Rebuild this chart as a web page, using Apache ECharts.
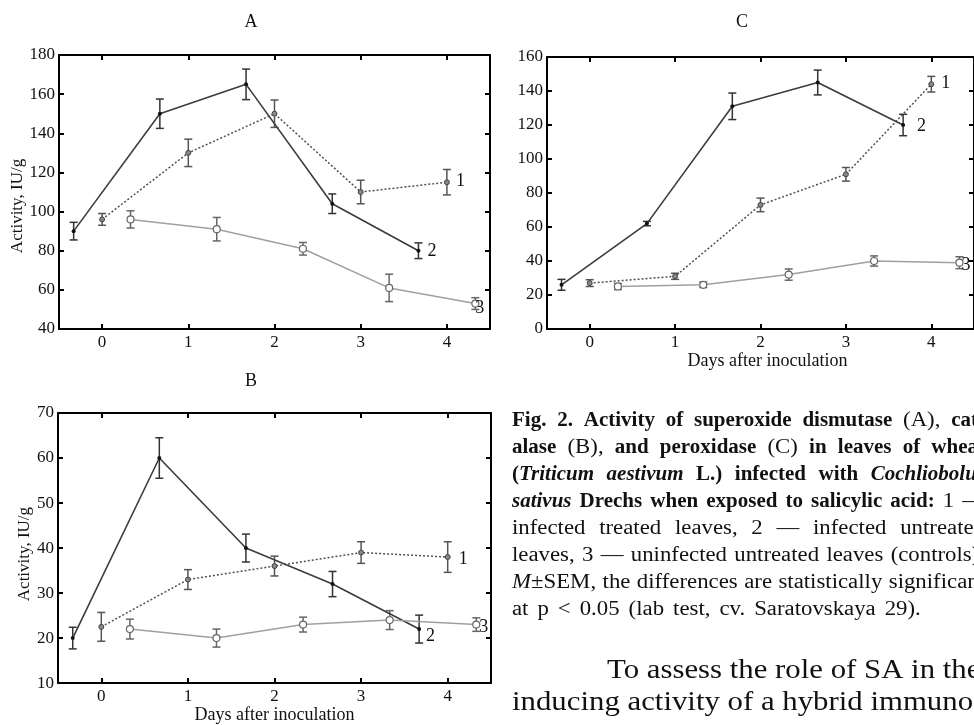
<!DOCTYPE html>
<html>
<head>
<meta charset="utf-8">
<script src="https://cdn.jsdelivr.net/npm/echarts@6.0.0/dist/echarts.min.js"></script>
<style>
  html, body { margin: 0; padding: 0; background: #fff; }
  #chart { width: 974px; height: 725px; }
</style>
</head>
<body>
<div id="chart"></div>
<script>
// day ticks on the x axis
const dayTicks = [0, 1, 2, 3, 4];
// the three groups are staggered around each day
const xTreated = [0, 1, 2, 3, 4];
const xInfected = [-0.33, 0.67, 1.67, 2.67, 3.67];
const xControl = [0.33, 1.33, 2.33, 3.33, 4.33];

// A - superoxide dismutase
const sodTreated = [96, 130, 150, 110, 115];
const sodTreatedErr = [3, 7, 7, 6, 6.5];
const sodInfected = [90, 150, 165, 104, 80];
const sodInfectedErr = [4.5, 7.5, 7.8, 5, 4];
const sodControl = [96, 91, 81, 61, 53];
const sodControlErr = [4.4, 6, 3.2, 7, 3];

// B - catalase
const catTreated = [22.5, 33, 36, 39, 38];
const catTreatedErr = [3.2, 2.2, 2.2, 2.4, 3.4];
const catInfected = [20, 60, 40, 32, 22];
const catInfectedErr = [2.4, 4.5, 3.1, 2.8, 3.1];
const catControl = [22, 20, 23, 24, 23];
const catControlErr = [2.2, 2, 1.65, 2.1, 1.5];

// C - peroxidase
const podTreated = [27, 31, 73, 91, 144];
const podTreatedErr = [2, 1.8, 4, 4, 4.6];
const podInfected = [26, 62, 131, 145, 120];
const podInfectedErr = [3.2, 1.3, 7.8, 7.3, 6.3];
const podControl = [25, 26, 32, 40, 39];
const podControlErr = [1.8, 1.6, 3.3, 3, 3.5];

const serif = '"Liberation Serif", "Times New Roman", serif';

const panels = [
  { title: 'A', titleX: 251, titleY: 22,
    grid: { left: 59, top: 55, right: 484, bottom: 396 },
    y: [40, 180, 20], yName: 'Activity, IU/g', yNameGap: 32, yNamePad: [0, 28, 0, 0],
    xName: '', xNamePad: [0, 0, 0, 0],
    series: [[sodTreated, sodTreatedErr], [sodInfected, sodInfectedErr], [sodControl, sodControlErr]],
    labelOffsets: [[9, -1], [9, 1], [0, 5]] },
  { title: 'C', titleX: 742, titleY: 22,
    grid: { left: 547, top: 57, right: -3, bottom: 396 },
    y: [0, 160, 20], yName: '', yNameGap: 0, yNamePad: [0, 0, 0, 0],
    xName: 'Days after inoculation', xNamePad: [0, 0, 0, 14],
    series: [[podTreated, podTreatedErr], [podInfected, podInfectedErr], [podControl, podControlErr]],
    labelOffsets: [[10, -1], [14, 1], [2, 3]] },
  { title: 'B', titleX: 251, titleY: 381,
    grid: { left: 58, top: 413, right: 483, bottom: 40 },
    y: [10, 70, 10], yName: 'Activity, IU/g', yNameGap: 24, yNamePad: [0, 12, 0, 0],
    xName: 'Days after inoculation', xNamePad: [0, 0, 0, 0],
    series: [[catTreated, catTreatedErr], [catInfected, catInfectedErr], [catControl, catControlErr]],
    labelOffsets: [[11, 2], [7, 7], [3, 3]] }
];

const groups = [
  { xs: xTreated, name: '1', line: { color: '#505050', width: 1.5, type: [2, 2] },
    item: { color: '#888', borderColor: '#444', borderWidth: 1 }, size: 5, errColor: '#555' },
  { xs: xInfected, name: '2', line: { color: '#3c3c3c', width: 1.6, type: 'solid' },
    item: { color: '#111' }, size: 4, errColor: '#333' },
  { xs: xControl, name: '3', line: { color: '#a0a0a0', width: 1.5, type: 'solid' },
    item: { color: '#fff', borderColor: '#666', borderWidth: 1.2 }, size: 7, errColor: '#666' }
];

function renderErr(params, api) {
  const x = api.value(0), y = api.value(1), e = api.value(2);
  const hi = api.coord([x, y + e]);
  const lo = api.coord([x, y - e]);
  const w = 4;
  const style = { stroke: api.visual('color'), lineWidth: 1.5 };
  return {
    type: 'group',
    children: [
      { type: 'line', shape: { x1: hi[0], y1: hi[1], x2: lo[0], y2: lo[1] }, style: style },
      { type: 'line', shape: { x1: hi[0] - w, y1: hi[1], x2: hi[0] + w, y2: hi[1] }, style: style },
      { type: 'line', shape: { x1: lo[0] - w, y1: lo[1], x2: lo[0] + w, y2: lo[1] }, style: style }
    ]
  };
}

const axisLine = { onZero: false, lineStyle: { color: '#000', width: 2 } };
const tickStyle = { color: '#000', width: 2 };
const grids = [], xAxes = [], yAxes = [], series = [];

panels.forEach((p, g) => {
  grids.push(Object.assign({ containLabel: false }, p.grid));
  // bottom and top x axes (top one just for the box and ticks)
  ['bottom', 'top'].forEach((pos) => {
    xAxes.push({
      gridIndex: g, type: 'value', position: pos, min: -0.5, max: 4.5,
      axisLine: axisLine,
      axisTick: { show: true, inside: true, length: 5, customValues: dayTicks, lineStyle: tickStyle },
      axisLabel: { show: pos === 'bottom', customValues: dayTicks, color: '#111',
                   fontFamily: serif, fontSize: 17, margin: 5 },
      splitLine: { show: false },
      name: pos === 'bottom' ? p.xName : '', nameLocation: 'middle', nameGap: 22,
      nameTextStyle: { color: '#111', fontFamily: serif, fontSize: 18, padding: p.xNamePad }
    });
  });
  ['left', 'right'].forEach((pos) => {
    yAxes.push({
      gridIndex: g, type: 'value', position: pos, min: p.y[0], max: p.y[1], interval: p.y[2],
      axisLine: axisLine,
      axisTick: { show: true, inside: true, length: 5, lineStyle: tickStyle },
      axisLabel: { show: pos === 'left', color: '#111', fontFamily: serif, fontSize: 17, margin: 4 },
      splitLine: { show: false },
      name: pos === 'left' ? p.yName : '', nameLocation: 'middle', nameGap: p.yNameGap,
      nameTextStyle: { color: '#111', fontFamily: serif, fontSize: 17, padding: p.yNamePad }
    });
  });

  p.series.forEach((s, k) => {
    const grp = groups[k];
    const vals = s[0], errs = s[1];
    series.push({
      type: 'custom', xAxisIndex: g * 2, yAxisIndex: g * 2,
      renderItem: renderErr,
      itemStyle: { color: grp.errColor },
      encode: { x: 0, y: 1 },
      data: grp.xs.map((x, i) => [x, vals[i], errs[i]]),
      z: 2
    });
    series.push({
      type: 'line', xAxisIndex: g * 2, yAxisIndex: g * 2,
      data: grp.xs.map((x, i) => [x, vals[i]]),
      symbol: 'circle', symbolSize: grp.size,
      lineStyle: grp.line,
      itemStyle: grp.item,
      endLabel: {
        show: true, formatter: grp.name, distance: 0, offset: p.labelOffsets[k],
        color: '#111', fontFamily: serif, fontSize: 18
      },
      z: 3
    });
  });
});

// caption and body text, laid out word by word (justified like the page)
const captionLines = [
  [['b', 'Fig. 2. Activity of superoxide dismutase '], ['r', '(A), '], ['b', 'cat-']],
  [['b', 'alase '], ['r', '(B), '], ['b', 'and peroxidase '], ['r', '(C) '], ['b', 'in leaves of wheat']],
  [['b', '('], ['bi', 'Triticum aestivum '], ['b', 'L.) infected with '], ['bi', 'Cochliobolus']],
  [['bi', 'sativus '], ['b', 'Drechs when exposed to salicylic acid: '], ['r', '1 \u2014']],
  [['r', 'infected treated leaves, 2 \u2014 infected untreated']],
  [['r', 'leaves, 3 \u2014 uninfected untreated leaves (controls).']],
  [['i', 'M'], ['r', '\u00b1SEM, the differences are statistically significant']],
  [['r', 'at p < 0.05 (lab test, cv. Saratovskaya 29).']]
];
const bodyLines = [
  [['r', 'To assess the role of SA in the']],
  [['r', 'inducing activity of a hybrid immuno-']]
];

const fontOf = (st, size) => ({
  b: 'bold ', bi: 'italic bold ', i: 'italic ', r: ''
}[st]) + size + 'px "Liberation Serif"';

const measureCtx = document.createElement('canvas').getContext('2d');
function measure(text, font) {
  measureCtx.font = font;
  return measureCtx.measureText(text).width;
}

function layoutText(lines, opt) {
  const els = [];
  lines.forEach((segs, li) => {
    const words = [[]];
    segs.forEach(([st, txt]) => {
      txt.split(/( )/).forEach((part) => {
        if (part === ' ') {
          if (words[words.length - 1].length) words.push([]);
        } else if (part) {
          words[words.length - 1].push([st, part]);
        }
      });
    });
    if (!words[words.length - 1].length) words.pop();
    const widths = words.map((w) =>
      w.reduce((sum, [st, t]) => sum + measure(t, fontOf(st, opt.size)) * opt.scales[st], 0));
    const left = opt.starts[li];
    const total = widths.reduce((a, b) => a + b, 0);
    const gap = opt.justify[li] ? (opt.right - left - total) / (words.length - 1) : opt.space;
    const y = opt.baseline0 + li * opt.lineStep - 0.3375 * opt.size;
    let x = left;
    words.forEach((w) => {
      w.forEach(([st, t]) => {
        const f = fontOf(st, opt.size);
        els.push({
          type: 'text', x: x, y: y, scaleX: opt.scales[st], silent: true,
          style: { text: t, font: f, fill: '#111', align: 'left', verticalAlign: 'middle' }
        });
        x += measure(t, f) * opt.scales[st];
      });
      x += gap;
    });
  });
  return els;
}

const graphics = []
  .concat(layoutText(captionLines, {
    size: 20, scales: { b: 1.05, bi: 1.05, r: 1.14, i: 1.14 }, space: 9,
    right: 985, baseline0: 427.5, lineStep: 27,
    starts: captionLines.map(() => 512),
    justify: captionLines.map((l, i) => i < captionLines.length - 1)
  }))
  .concat(layoutText(bodyLines, {
    size: 28, scales: { r: 1.1 }, space: 7.7,
    right: 983, baseline0: 680, lineStep: 31.7,
    starts: [607, 512], justify: [false, false]
  }));

panels.forEach((p) => {
  graphics.push({
    type: 'text', x: p.titleX, y: p.titleY, silent: true,
    style: { text: p.title, font: '18px "Liberation Serif"', fill: '#111',
             align: 'center', verticalAlign: 'middle' }
  });
});

const myChart = echarts.init(document.getElementById('chart'));
const option = {
  animation: false,
  backgroundColor: '#fff',
  grid: grids,
  xAxis: xAxes,
  yAxis: yAxes,
  series: series,
  graphic: { elements: graphics }
};
myChart.setOption(option);
</script>
</body>
</html>
